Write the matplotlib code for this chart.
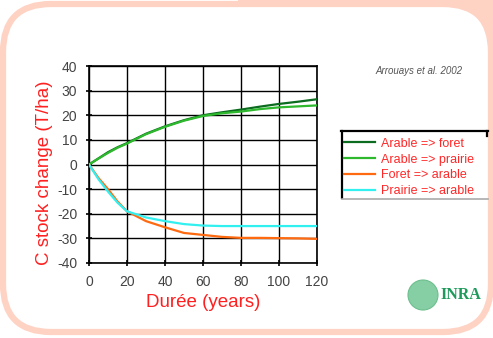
import numpy as np
import matplotlib as mpl
from matplotlib import pyplot as plt
from matplotlib.patches import FancyBboxPatch, Rectangle, Circle
from matplotlib.lines import Line2D

mpl.rcParams['font.family'] = ['Liberation Sans', 'DejaVu Sans']
mpl.rcParams['axes.unicode_minus'] = False

W, H = 493, 338

years = [0, 5, 10, 15, 20, 30, 40, 50, 60, 70, 80, 90, 100, 110, 120]
arable_foret = [0, 2.5, 5, 7, 8.7, 12.5, 15.5, 18, 20, 21.2, 22.3, 23.5, 24.6, 25.5, 26.5]
arable_prairie = [0, 2.4, 4.7, 6.8, 8.5, 12.3, 15.3, 17.8, 19.7, 20.8, 21.5, 22.5, 23.2, 23.6, 24]
foret_arable = [0, -5.5, -10, -15, -19, -23, -25.5, -27.8, -28.6, -29.4, -29.8, -29.8, -29.9, -30, -30.2]
prairie_arable = [0, -6, -11, -15.5, -19, -21.5, -23, -24.2, -24.8, -25, -25, -25, -25, -25, -25]

series = [
	('Arable => foret', arable_foret, '#0b6b1e'),
	('Arable => prairie', arable_prairie, '#2eb82e'),
	('Foret => arable', foret_arable, '#ff6a10'),
	('Prairie => arable', prairie_arable, '#33f0f0'),
]

fig = plt.figure(figsize=(W / 100, H / 100), dpi=100)
fig.patch.set_facecolor('white')

# slide frame (display coords, origin bottom-left)
peach = '#ffd3c4'
fig.add_artist(Rectangle((238, H - 60), W - 238, 60, transform=None,
	facecolor=peach, edgecolor='none', zorder=0))
fig.add_artist(FancyBboxPatch((3, H - 332), 488, 328, transform=None,
	boxstyle='round,pad=0,rounding_size=48', facecolor='white',
	edgecolor=peach, linewidth=4.5, zorder=0.5))

ax = fig.add_axes([89 / W, 1 - 263 / H, 228 / W, 197 / H])
ax.set_facecolor('white')
ax.set_zorder(2)

for name, vals, col in series:
	ax.plot(years, vals, color=col, lw=1.6, label=name, zorder=3)

ax.set_xlim(0, 120)
ax.set_ylim(-40, 40)
ax.set_xticks(range(0, 121, 20))
ax.set_yticks(range(-40, 41, 10))
ax.grid(True, color='black', lw=1.0)
for s in ax.spines.values():
	s.set_color('black')
	s.set_linewidth(1.2)
ax.tick_params(direction='inout', length=5, width=1.2, labelsize=10,
	labelcolor='#444444')
ax.tick_params(axis='x', pad=6)
ax.tick_params(axis='y', pad=6)

ax.set_xlabel('Durée (years)', color='#ff2020', fontsize=13.5, labelpad=4)
ax.set_ylabel('C stock change (T/ha)', color='#ff2020', fontsize=13.5)
ax.yaxis.set_label_coords(-36 / 228, 0.46)

fig.text(375 / W, 1 - 71 / H, 'Arrouays et al. 2002', fontsize=7,
	style='italic', color='#555555', va='center')

leg = fig.legend(loc='upper left', bbox_to_anchor=(340 / W, 1 - 134 / H),
	frameon=False, fontsize=9, handlelength=2.5, handletextpad=0.5,
	labelspacing=0.3, borderaxespad=0, borderpad=0.3)
for t in leg.get_texts():
	t.set_color('#ff2828')

# legend box edges
fig.add_artist(Line2D([341, 488], [H - 131, H - 131], transform=None, color='black', lw=1.6))
fig.add_artist(Line2D([342, 342], [H - 131, H - 198], transform=None, color='black', lw=1.6))
fig.add_artist(Line2D([342, 488], [H - 199, H - 199], transform=None, color='#aaaaaa', lw=1.2))
fig.add_artist(Line2D([487, 487], [H - 131, H - 136], transform=None, color='black', lw=1.6))

# INRA logo
fig.add_artist(Circle((423, H - 295), 15, transform=None,
	facecolor='#86cfa4', edgecolor='#6cbf8e', lw=0.8))
fig.text(440 / W, 1 - 295 / H, 'INRA', fontsize=11.5, fontweight='bold',
	family='Liberation Serif', color='#1f9a5c', va='center')

fig.savefig('out.png', dpi=100, facecolor='white')
